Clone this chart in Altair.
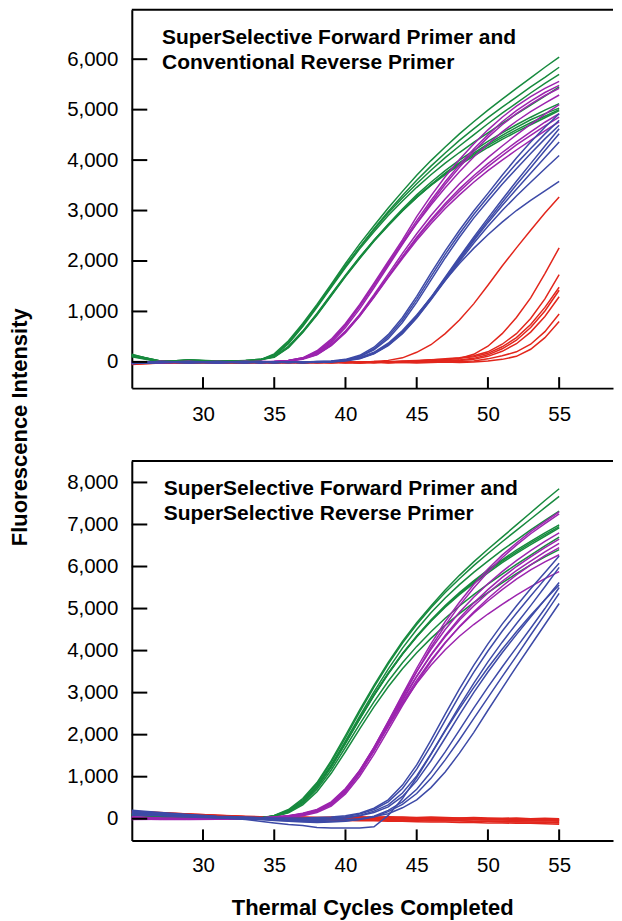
import altair as alt
import pandas as pd

# ---------------- data ----------------
CYCLES = [25, 27, 29, 31, 33, 34, 35, 36, 37, 38, 39, 40, 41, 42, 43, 44, 45,
          46, 47, 48, 49, 50, 51, 52, 53, 54, 55]
XTICKS = [30, 35, 40, 45, 50, 55]
TOP_YTICKS = [0, 1000, 2000, 3000, 4000, 5000, 6000]
BOT_YTICKS = [0, 1000, 2000, 3000, 4000, 5000, 6000, 7000, 8000]
TOP_TITLE = ["SuperSelective Forward Primer and", "Conventional Reverse Primer"]
BOT_TITLE = ["SuperSelective Forward Primer and", "SuperSelective Reverse Primer"]
X_TITLE = "Thermal Cycles Completed"
Y_TITLE = "Fluorescence Intensity"

# top panel (conventional reverse primer)
TOP_GREEN = [
    [130, 20, 30, 10, 20, 40, 160, 420, 760, 1140, 1540, 1950, 2340, 2700, 3050, 3380, 3700, 3990, 4260, 4520, 4760, 4990, 5210, 5420, 5630, 5840, 6040],
    [120, 10, 30, 20, 20, 30, 130, 380, 720, 1100, 1500, 1900, 2280, 2640, 2980, 3300, 3600, 3880, 4140, 4390, 4620, 4840, 5050, 5250, 5450, 5640, 5840],
    [100, 0, 40, 20, 10, 40, 140, 390, 730, 1110, 1510, 1900, 2270, 2620, 2950, 3250, 3530, 3800, 4050, 4280, 4500, 4720, 4930, 5130, 5330, 5520, 5700],
    [110, 10, 30, 10, 30, 40, 120, 360, 700, 1080, 1480, 1870, 2240, 2580, 2900, 3190, 3460, 3710, 3940, 4150, 4350, 4540, 4730, 4910, 5090, 5270, 5450],
    [140, 20, 20, 10, 30, 50, 100, 300, 600, 950, 1330, 1710, 2070, 2410, 2730, 3030, 3310, 3560, 3790, 4000, 4190, 4370, 4540, 4700, 4850, 4990, 5120],
    [120, 10, 30, 20, 20, 40, 90, 280, 580, 930, 1310, 1690, 2050, 2390, 2700, 2990, 3260, 3510, 3740, 3950, 4140, 4320, 4490, 4650, 4800, 4920, 5030],
    [150, 0, 40, 10, 10, 40, 100, 290, 590, 940, 1320, 1700, 2060, 2400, 2710, 3000, 3270, 3510, 3730, 3930, 4110, 4290, 4450, 4600, 4740, 4870, 5000],
    [130, 20, 20, 20, 30, 50, 110, 310, 610, 960, 1340, 1720, 2080, 2410, 2720, 3000, 3260, 3500, 3710, 3900, 4080, 4250, 4410, 4560, 4700, 4840, 4980],
]
TOP_PURPLE = [
    [-20, 10, 0, -10, 0, 10, 10, 30, 80, 220, 450, 760, 1140, 1560, 1990, 2420, 2880, 3290, 3670, 4010, 4320, 4600, 4850, 5070, 5260, 5420, 5560],
    [-10, 0, 10, -20, 10, 0, 0, 20, 70, 190, 410, 720, 1100, 1520, 1950, 2380, 2800, 3200, 3570, 3910, 4220, 4500, 4760, 4980, 5170, 5340, 5480],
    [0, -10, 10, 0, -10, 10, 0, 20, 60, 170, 380, 680, 1050, 1470, 1900, 2330, 2750, 3150, 3520, 3860, 4170, 4450, 4700, 4920, 5110, 5280, 5420],
    [-30, 0, -10, 10, 0, -10, 10, 30, 80, 200, 420, 730, 1110, 1520, 1940, 2350, 2740, 3110, 3450, 3770, 4060, 4320, 4560, 4770, 4960, 5130, 5290],
    [-10, 10, 0, 0, 10, 0, 10, 30, 60, 150, 330, 600, 940, 1330, 1740, 2150, 2540, 2900, 3230, 3530, 3800, 4050, 4280, 4500, 4710, 4910, 5100],
    [-20, 0, 10, -10, 0, 10, 0, 20, 50, 140, 320, 580, 910, 1290, 1690, 2090, 2470, 2820, 3140, 3430, 3690, 3930, 4150, 4360, 4560, 4750, 4920],
    [0, -20, 0, 10, -10, 0, 10, 30, 70, 170, 350, 610, 930, 1300, 1690, 2080, 2450, 2790, 3100, 3380, 3640, 3870, 4090, 4300, 4490, 4680, 4850],
    [-20, 10, -10, 0, 10, -10, 0, 20, 60, 150, 330, 590, 910, 1280, 1670, 2050, 2410, 2740, 3040, 3310, 3560, 3790, 4000, 4200, 4390, 4580, 4760],
]
TOP_BLUE = [
    [-30, 0, -10, 0, -20, 0, -10, 0, -10, 10, 20, 50, 130, 290, 540, 880, 1300, 1760, 2200, 2610, 2990, 3340, 3700, 4040, 4360, 4650, 4920],
    [-20, -10, 0, -10, 0, -10, 0, -10, 0, 0, 10, 40, 110, 260, 500, 830, 1240, 1690, 2130, 2540, 2920, 3270, 3610, 3930, 4230, 4520, 4790],
    [-10, 0, -20, 0, -10, 0, -10, 0, -10, 0, 10, 40, 100, 240, 460, 780, 1180, 1620, 2060, 2470, 2850, 3190, 3520, 3830, 4130, 4420, 4690],
    [-30, -10, 0, -20, 0, -10, 0, -10, 0, -10, 0, 30, 70, 170, 340, 590, 910, 1280, 1680, 2080, 2470, 2850, 3220, 3580, 3930, 4280, 4620],
    [-20, 0, -10, 0, -10, 0, -20, 0, -10, 0, 10, 30, 80, 180, 350, 600, 910, 1270, 1660, 2050, 2430, 2800, 3160, 3510, 3850, 4190, 4520],
    [-10, -10, 0, -10, 0, -20, 0, -10, 0, 0, 10, 30, 70, 170, 330, 570, 880, 1240, 1630, 2020, 2400, 2760, 3100, 3420, 3740, 4050, 4360],
    [-30, 0, -10, -10, 0, 0, -10, 0, -20, 0, 0, 20, 60, 160, 320, 560, 870, 1230, 1610, 1990, 2350, 2690, 3000, 3290, 3560, 3830, 4090],
    [-20, -10, 0, 0, -10, -10, 0, -10, 0, 10, 10, 30, 80, 190, 370, 620, 930, 1270, 1620, 1950, 2250, 2520, 2770, 3000, 3200, 3390, 3580],
]
TOP_RED = [
    [-40, -20, 0, -10, -20, -10, 0, -10, 0, -10, 0, -10, 0, 10, 30, 80, 190, 340, 560, 830, 1150, 1520, 1900, 2260, 2610, 2950, 3270],
    [-30, -10, -20, 0, -10, -20, -10, 0, -20, -10, 0, -10, -20, 0, -10, 0, 10, 20, 40, 70, 150, 310, 560, 880, 1270, 1750, 2260],
    [-20, 0, -10, -20, 0, -10, -20, 0, -10, 0, -10, 0, -10, 10, 0, 20, 30, 40, 60, 80, 120, 200, 350, 560, 860, 1250, 1730],
    [-50, -20, -10, 0, -20, 0, -10, -20, 0, -10, -20, 0, -10, 0, 10, 10, 20, 40, 50, 70, 100, 170, 300, 480, 740, 1080, 1480],
    [-30, -10, 0, -20, -10, 0, -10, 0, -20, 0, -10, -20, 0, -10, 0, 10, 0, 20, 30, 40, 70, 140, 260, 430, 680, 1010, 1420],
    [-40, 0, -20, -10, 0, -20, 0, -10, 0, -10, 0, -10, -20, 0, -10, 0, 10, 10, 20, 30, 50, 110, 210, 360, 590, 900, 1290],
    [-20, -10, 0, -10, -20, -10, 0, -10, -20, 0, -10, 0, -10, 0, -20, -10, 0, 10, 0, 10, 20, 60, 120, 200, 350, 600, 950],
    [-30, -20, -10, 0, -10, 0, -20, -10, 0, -20, -10, 0, -10, -20, 0, -10, -20, -10, 0, -10, 0, 20, 50, 110, 250, 480, 800],
]

# bottom panel (SuperSelective reverse primer)
BOT_GREEN = [
    [100, 60, 30, 10, 0, 20, 80, 220, 480, 860, 1380, 1980, 2590, 3170, 3720, 4220, 4660, 5060, 5440, 5790, 6110, 6410, 6700, 6990, 7280, 7570, 7850],
    [120, 70, 40, 20, 10, 10, 70, 200, 450, 830, 1340, 1930, 2540, 3130, 3680, 4180, 4620, 5020, 5380, 5710, 6020, 6310, 6590, 6860, 7130, 7400, 7670],
    [80, 50, 30, 0, 10, 20, 60, 180, 420, 790, 1280, 1850, 2440, 3020, 3560, 4060, 4500, 4900, 5250, 5570, 5860, 6130, 6390, 6630, 6870, 7100, 7320],
    [110, 60, 20, 10, 0, 10, 60, 170, 400, 760, 1240, 1800, 2380, 2940, 3460, 3930, 4350, 4730, 5070, 5380, 5660, 5920, 6160, 6390, 6600, 6800, 6990],
    [90, 50, 30, 10, 10, 20, 50, 160, 390, 750, 1230, 1790, 2370, 2930, 3440, 3910, 4330, 4710, 5050, 5350, 5630, 5890, 6130, 6350, 6560, 6760, 6950],
    [130, 70, 40, 20, 0, 10, 70, 180, 410, 770, 1250, 1810, 2390, 2950, 3460, 3920, 4330, 4700, 5030, 5330, 5600, 5850, 6090, 6310, 6520, 6720, 6920],
    [100, 60, 30, 10, 0, 10, 60, 150, 360, 700, 1160, 1700, 2250, 2780, 3270, 3710, 4100, 4450, 4770, 5060, 5330, 5580, 5820, 6050, 6270, 6490, 6700],
    [90, 50, 20, 10, 10, 20, 50, 140, 330, 640, 1080, 1600, 2140, 2660, 3140, 3570, 3950, 4290, 4600, 4880, 5140, 5380, 5610, 5830, 6040, 6230, 6400],
]
BOT_PURPLE = [
    [30, 10, 0, 0, 10, 20, 40, 60, 110, 200, 360, 680, 1130, 1690, 2310, 2950, 3580, 4160, 4690, 5150, 5570, 5940, 6270, 6560, 6830, 7070, 7300],
    [0, -10, 0, 10, 0, 10, 30, 50, 90, 180, 340, 640, 1080, 1630, 2250, 2880, 3500, 4080, 4600, 5070, 5490, 5870, 6210, 6510, 6780, 7020, 7250],
    [50, 20, 10, 0, 0, 10, 20, 60, 120, 200, 380, 700, 1150, 1700, 2310, 2920, 3500, 4030, 4500, 4910, 5270, 5590, 5880, 6140, 6380, 6600, 6800],
    [-20, -10, 0, 0, 10, 0, 20, 40, 90, 170, 330, 630, 1070, 1610, 2210, 2810, 3380, 3900, 4360, 4770, 5130, 5450, 5740, 6000, 6230, 6450, 6650],
    [20, 0, -10, 0, 10, 20, 40, 70, 130, 220, 400, 720, 1150, 1680, 2260, 2840, 3390, 3890, 4330, 4720, 5060, 5370, 5650, 5900, 6130, 6350, 6550],
    [10, -10, -20, -10, 0, 0, 10, 30, 70, 150, 300, 590, 1010, 1530, 2110, 2690, 3240, 3740, 4180, 4570, 4920, 5240, 5530, 5800, 6040, 6260, 6450],
    [40, 10, 0, -10, 0, 10, 30, 60, 110, 190, 360, 670, 1100, 1620, 2190, 2760, 3290, 3770, 4190, 4560, 4890, 5180, 5450, 5700, 5920, 6110, 6280],
    [0, -20, -10, 0, 0, 20, 40, 70, 120, 200, 370, 680, 1110, 1630, 2190, 2730, 3220, 3650, 4020, 4340, 4620, 4870, 5100, 5320, 5520, 5710, 5880],
]
BOT_BLUE = [
    [200, 150, 100, 60, 40, 30, 20, 20, 20, 30, 40, 70, 130, 250, 450, 800, 1280, 1870, 2490, 3090, 3650, 4160, 4630, 5060, 5470, 5860, 6250],
    [150, 120, 80, 50, 20, 10, 0, -10, 0, 10, 20, 50, 110, 220, 400, 720, 1180, 1740, 2340, 2930, 3480, 3990, 4460, 4890, 5300, 5700, 6080],
    [100, 80, 60, 30, 10, 0, -20, -30, -20, -10, 0, 30, 80, 180, 330, 610, 1020, 1540, 2110, 2680, 3220, 3730, 4200, 4640, 5070, 5520, 5980],
    [180, 130, 90, 50, 30, 10, 0, -10, -20, -10, 0, 20, 70, 150, 280, 530, 900, 1380, 1920, 2470, 3000, 3490, 3950, 4380, 4800, 5210, 5620],
    [150, 100, 60, 30, -20, -60, -100, -140, -160, -210, -220, -220, -220, -190, 80, 480, 980, 1530, 2090, 2620, 3120, 3590, 4030, 4450, 4840, 5210, 5560],
    [120, 90, 60, 30, 10, -20, -40, -60, -80, -90, -80, -60, -10, 60, 200, 400, 700, 1110, 1590, 2110, 2630, 3130, 3610, 4070, 4530, 5000, 5500],
    [90, 70, 40, 20, 0, -10, -30, -50, -60, -70, -60, -50, -20, 40, 170, 340, 600, 960, 1400, 1880, 2380, 2880, 3380, 3870, 4370, 4860, 5360],
    [160, 120, 80, 40, 10, 0, -20, -30, -40, -40, -30, -20, 0, 50, 120, 260, 450, 740, 1110, 1560, 2050, 2580, 3100, 3620, 4120, 4620, 5120],
]
BOT_RED = [
    [170, 140, 110, 80, 50, 40, 30, 30, 40, 30, 40, 30, 50, 40, 50, 40, 30, 40, 30, 20, 30, 20, 10, 20, 0, 10, 0],
    [150, 120, 100, 70, 50, 40, 30, 30, 20, 20, 10, 10, 0, 0, 10, 0, 0, -10, -10, -20, -20, -30, -30, -40, -40, -50, -60],
    [130, 110, 90, 60, 40, 30, 20, 10, 0, -10, -20, -20, -30, -30, -40, -30, -40, -50, -40, -50, -60, -60, -70, -70, -80, -80, -90],
    [180, 150, 110, 80, 60, 50, 40, 40, 30, 30, 20, 20, 30, 20, 30, 20, 20, 10, 0, 10, 0, -10, 0, -10, -20, -20, -30],
    [120, 100, 80, 60, 40, 30, 20, 0, -10, -20, -30, -40, -50, -50, -60, -60, -70, -80, -80, -90, -90, -100, -100, -110, -110, -120, -130],
    [160, 130, 100, 70, 50, 40, 30, 20, 10, 10, 0, 10, 0, 0, 10, 0, -10, 0, -10, -20, -10, -20, -30, -30, -30, -40, -40],
    [140, 120, 90, 70, 40, 30, 20, 10, 0, -10, -10, -20, -20, -30, -20, -30, -30, -40, -50, -50, -60, -60, -70, -80, -80, -90, -100],
    [150, 130, 100, 60, 50, 40, 30, 30, 30, 20, 20, 30, 20, 30, 20, 30, 20, 20, 10, 10, 10, 0, 0, -10, -10, -20, -20],
]

COLORS = {"red": "#e2261c", "green": "#178a3e", "purple": "#9c24ae", "blue": "#3d4aa7"}

# ---------------- layout ----------------
FONT = "Liberation Sans"
W = 482
X_DOMAIN = [25, 58.78]


def curves_df(curves, name):
    rows = []
    for i, cur in enumerate(curves):
        for c, v in zip(CYCLES, cur):
            rows.append({"cycle": c, "value": v, "curve": f"{name}{i}"})
    return pd.DataFrame(rows)


def panel(groups, yticks, ydomain, height, title_lines, title_x, title_y0, title_lh,
          x_label_pad, x_title, y_title):
    xs = alt.Scale(domain=X_DOMAIN, nice=False, zero=False)
    ys = alt.Scale(domain=ydomain, nice=False, zero=False)

    x_axis_kw = dict(values=XTICKS, ticks=False, tickSize=0, labelPadding=x_label_pad,
                     labelFontSize=20.5, labelColor="black", labelFont=FONT,
                     labelFlush=False, domainColor="black", domainWidth=2, grid=False)
    if x_title:
        x_axis = alt.Axis(title=x_title, titleFontSize=22, titleFontWeight="bold",
                          titleColor="black", titleFont=FONT, titleX=240.8, titleY=74.3,
                          titleBaseline="alphabetic", titleAlign="center", **x_axis_kw)
    else:
        x_axis = alt.Axis(title=None, **x_axis_kw)

    y_axis_kw = dict(values=yticks, format=",d", ticks=False, tickSize=0, labelPadding=14,
                     labelFontSize=20.5, labelColor="black", labelFont=FONT,
                     labelFlush=False, domainColor="black", domainWidth=2, grid=False)
    if y_title:
        y_axis = alt.Axis(title=y_title, titleFontSize=22, titleFontWeight="bold",
                          titleColor="black", titleFont=FONT, titleX=-112.0, titleY=417.7,
                          titleAngle=270, titleBaseline="middle", titleAlign="center",
                          **y_axis_kw)
    else:
        y_axis = alt.Axis(title=None, **y_axis_kw)

    layers = []
    for name, curves in groups:
        layers.append(
            alt.Chart(curves_df(curves, name)).mark_line(
                color=COLORS[name], strokeWidth=1.5
            ).encode(
                x=alt.X("cycle:Q", scale=xs, axis=x_axis),
                y=alt.Y("value:Q", scale=ys, axis=y_axis),
                detail="curve:N",
            )
        )

    xt = alt.Chart(pd.DataFrame({"t": XTICKS})).mark_rule(color="black", strokeWidth=2).encode(
        x=alt.X("t:Q", scale=xs, axis=x_axis),
        y=alt.value(height - 11), y2=alt.value(height))
    yt = alt.Chart(pd.DataFrame({"t": yticks})).mark_rule(color="black", strokeWidth=2).encode(
        y=alt.Y("t:Q", scale=ys, axis=y_axis),
        x=alt.value(0), x2=alt.value(15.5))
    top_line = alt.Chart(pd.DataFrame({"a": [0]})).mark_rule(color="black", strokeWidth=2).encode(
        y=alt.value(0), y2=alt.value(0), x=alt.value(0), x2=alt.value(W))
    layers += [xt, yt, top_line]

    for k, line in enumerate(title_lines):
        layers.append(
            alt.Chart(pd.DataFrame({"t": [line]})).mark_text(
                align="left", baseline="alphabetic", fontSize=21, fontWeight="bold",
                font=FONT, color="black"
            ).encode(x=alt.value(title_x), y=alt.value(title_y0 + k * title_lh), text="t:N")
        )

    return alt.layer(*layers).properties(
        width=W, height=height,
        view=alt.ViewBackground(strokeWidth=0, strokeOpacity=0, stroke="transparent"))


top = panel([("red", TOP_RED), ("green", TOP_GREEN), ("purple", TOP_PURPLE), ("blue", TOP_BLUE)],
            TOP_YTICKS, [-520, 6980], 379, TOP_TITLE, 30.3, 34.4, 24.5,
            16.8, None, Y_TITLE)
bottom = panel([("red", BOT_RED), ("green", BOT_GREEN), ("purple", BOT_PURPLE), ("blue", BOT_BLUE)],
               BOT_YTICKS, [-515, 8510], 380, BOT_TITLE, 32, 34.3, 25,
               15.1, X_TITLE, None)

chart = alt.vconcat(top, bottom, spacing=73, bounds="flush").properties(
    padding={"left": 0, "top": 0, "right": 0, "bottom": 0}
).configure(font=FONT).configure_view(strokeWidth=0, strokeOpacity=0, stroke="transparent")

chart.save("out.html", embed_options={"renderer": "svg", "actions": False})
